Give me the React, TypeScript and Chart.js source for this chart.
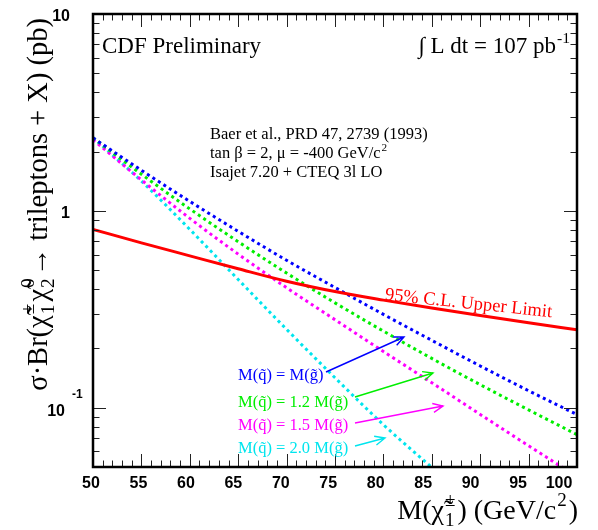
import React, { useEffect, useRef } from 'react';
import { Chart, registerables } from 'chart.js';

Chart.register(...registerables);

// ---- data (chargino mass in GeV/c^2, sigma*Br in pb) ----
const masses = [50, 55, 60, 65, 70, 75, 80, 85, 90, 95, 100];
const upperLimit = [0.805, 0.688, 0.591, 0.508, 0.439, 0.389, 0.352, 0.321, 0.294, 0.27, 0.249];
const sqEqualGl = [2.35, 1.607, 1.117, 0.787, 0.561, 0.408, 0.298, 0.22, 0.163, 0.122, 0.0923];
const sq12Gl = [2.35, 1.535, 1.023, 0.697, 0.483, 0.341, 0.245, 0.178, 0.131, 0.0975, 0.073];
const sq15Gl = [2.3, 1.436, 0.916, 0.603, 0.407, 0.28, 0.193, 0.134, 0.0925, 0.0641, 0.0446];
const sq20Gl = [2.35, 1.416, 0.805, 0.448, 0.25, 0.142, 0.082, 0.0497, null, null, null];

const xTickValues = [50, 55, 60, 65, 70, 75, 80, 85, 90, 95, 100];
const xMin = 50;
const xMax = 100;
const yMin = 0.05;
const yMax = 10;

const SERIF = '"Liberation Serif", "Times New Roman", serif';
const SANS = '"Liberation Sans", Arial, sans-serif';

type Seg = { t: string; sup?: string; sub?: string };

function drawRich(
  ctx: CanvasRenderingContext2D,
  segs: Seg[],
  x: number,
  y: number,
  size: number,
  family: string,
  align: 'left' | 'right' | 'center',
  color: string,
  gap = 2
) {
  const small = size * 0.68;
  const widths = segs.map((s) => {
    ctx.font = `${size}px ${family}`;
    const bw = ctx.measureText(s.t).width;
    ctx.font = `${small}px ${family}`;
    const sw = Math.max(
      s.sup ? ctx.measureText(s.sup).width : 0,
      s.sub ? ctx.measureText(s.sub).width : 0
    );
    return { bw, sw: sw ? sw + gap : 0 };
  });
  const total = widths.reduce((a, w) => a + w.bw + w.sw, 0);
  let cx = align === 'left' ? x : align === 'right' ? x - total : x - total / 2;
  ctx.fillStyle = color;
  ctx.textAlign = 'left';
  ctx.textBaseline = 'alphabetic';
  segs.forEach((s, i) => {
    ctx.font = `${size}px ${family}`;
    ctx.fillText(s.t, cx, y);
    cx += widths[i].bw;
    ctx.font = `${small}px ${family}`;
    if (s.sup) ctx.fillText(s.sup, cx + 1, y - size * 0.45);
    if (s.sub) ctx.fillText(s.sub, cx + 1, y + size * 0.25);
    cx += widths[i].sw;
  });
}

function drawArrow(ctx: CanvasRenderingContext2D, x1: number, y1: number, x2: number, y2: number, color: string) {
  const a = Math.atan2(y2 - y1, x2 - x1);
  const hl = 11;
  const ha = 0.42;
  ctx.save();
  ctx.strokeStyle = color;
  ctx.lineWidth = 1.4;
  ctx.beginPath();
  ctx.moveTo(x1, y1);
  ctx.lineTo(x2, y2);
  ctx.moveTo(x2 - hl * Math.cos(a - ha), y2 - hl * Math.sin(a - ha));
  ctx.lineTo(x2, y2);
  ctx.lineTo(x2 - hl * Math.cos(a + ha), y2 - hl * Math.sin(a + ha));
  ctx.stroke();
  ctx.restore();
}

const decorPlugin = {
  id: 'decor',
  afterDraw(chart: any) {
    const ctx: CanvasRenderingContext2D = chart.ctx;
    const xs = chart.scales.x;
    const ys = chart.scales.y;
    const { left, right, top, bottom } = chart.chartArea;
    ctx.save();

    // ticks
    ctx.strokeStyle = '#222';
    ctx.lineWidth = 1;
    ctx.beginPath();
    for (let m = xMin; m <= xMax; m += 1) {
      const px = Math.round(xs.getPixelForValue(m)) + 0.5;
      const len = m % 5 === 0 ? 13 : 6.5;
      ctx.moveTo(px, bottom);
      ctx.lineTo(px, bottom - len);
      ctx.moveTo(px, top);
      ctx.lineTo(px, top + len);
    }
    for (const d of [0.01, 0.1, 1]) {
      for (let k = 1; k <= 9; k++) {
        const v = k * d;
        if (v < yMin - 1e-9 || v > yMax + 1e-9) continue;
        const py = Math.round(ys.getPixelForValue(v)) + 0.5;
        const len = k === 1 ? 13 : 6.5;
        ctx.moveTo(left, py);
        ctx.lineTo(left + len, py);
        ctx.moveTo(right, py);
        ctx.lineTo(right - len, py);
      }
    }
    ctx.stroke();

    // frame
    ctx.strokeStyle = '#000';
    ctx.lineWidth = 2.5;
    ctx.strokeRect(left, top, right - left, bottom - top);

    // x tick labels
    ctx.fillStyle = '#000';
    ctx.font = `bold 16px ${SANS}`;
    ctx.textBaseline = 'alphabetic';
    ctx.textAlign = 'center';
    xTickValues.forEach((m) => {
      const label = String(m);
      const px = xs.getPixelForValue(m);
      const off = 2 + (m - xMin) * 0.19 + (label.length > 2 ? 6.5 : 0);
      ctx.fillText(label, px - off, 488);
    });

    // y tick labels
    ctx.textAlign = 'right';
    ctx.fillText('10', 70, ys.getPixelForValue(10) + 7);
    ctx.fillText('1', 70, ys.getPixelForValue(1) + 7);
    const p01 = ys.getPixelForValue(0.1);
    ctx.fillText('10', 65, p01 + 8);
    ctx.textAlign = 'left';
    ctx.font = `bold 12px ${SANS}`;
    ctx.fillText('-1', 72, p01 - 10);

    // top texts
    ctx.fillStyle = '#000';
    ctx.font = `23px ${SERIF}`;
    ctx.textAlign = 'left';
    ctx.fillText('CDF Preliminary', 102, 53);
    drawRich(ctx, [{ t: '\u222B L dt = 107 pb', sup: '-1' }], 571, 53, 23, SERIF, 'right', '#000');

    // reference block
    ctx.font = `16.5px ${SERIF}`;
    ctx.textAlign = 'left';
    ctx.fillStyle = '#000';
    ctx.fillText('Baer et al., PRD 47, 2739 (1993)', 210, 139);
    drawRich(ctx, [{ t: 'tan \u03B2 = 2, \u03BC = -400 GeV/c', sup: '2' }], 210, 158, 16.5, SERIF, 'left', '#000');
    ctx.font = `16.5px ${SERIF}`;
    ctx.fillText('Isajet 7.20 + CTEQ 3l LO', 210, 177);

    // upper-limit label
    ctx.save();
    ctx.translate(468, 308.5);
    ctx.rotate((6 * Math.PI) / 180);
    ctx.font = `18.5px ${SERIF}`;
    ctx.fillStyle = '#ff0000';
    ctx.textAlign = 'center';
    ctx.fillText('95% C.L. Upper Limit', 0, 0);
    ctx.restore();

    // legend labels + arrows
    const labels: [string, string, number][] = [
      ['M(q\u0303) = M(g\u0303)', '#0000ff', 380],
      ['M(q\u0303) = 1.2 M(g\u0303)', '#00ee00', 407],
      ['M(q\u0303) = 1.5 M(g\u0303)', '#ff00ff', 430],
      ['M(q\u0303) = 2.0 M(g\u0303)', '#00e5ee', 453],
    ];
    ctx.font = `16.5px ${SERIF}`;
    ctx.textAlign = 'left';
    labels.forEach(([t, c, y]) => {
      ctx.fillStyle = c;
      ctx.fillText(t, 238, y);
    });
    drawArrow(ctx, 326, 372, 404, 337, '#0000ff');
    drawArrow(ctx, 355, 397, 433, 373, '#00ee00');
    drawArrow(ctx, 355, 423, 443, 406, '#ff00ff');
    drawArrow(ctx, 355, 446, 385, 438, '#00e5ee');

    // axis titles
    drawRich(
      ctx,
      [{ t: 'M(' }, { t: '\u03C7\u0303', sub: '1', sup: '\u00B1' }, { t: ') (GeV/c', sup: '2' }, { t: ')' }],
      578,
      519,
      28,
      SERIF,
      'right',
      '#000',
      3
    );
    ctx.save();
    ctx.translate(47, 18);
    ctx.rotate(-Math.PI / 2);
    drawRich(
      ctx,
      [
        { t: '\u03C3\u00B7Br(' },
        { t: '\u03C7\u0303', sub: '1', sup: '\u00B1' },
        { t: '\u03C7\u0303', sub: '2', sup: '0' },
        { t: '\u2192 trileptons + X) (pb)' },
      ],
      0,
      0,
      28.5,
      SERIF,
      'right',
      '#000',
      3
    );
    ctx.restore();

    ctx.restore();
  },
};

function series(vals: (number | null)[]) {
  return masses.map((m, i) => ({ x: m, y: vals[i] }));
}

export default function App() {
  const ref = useRef<HTMLCanvasElement>(null);
  useEffect(() => {
    document.body.style.margin = '0';
    const dotted = { borderWidth: 3, borderDash: [3, 3.5], pointRadius: 0, cubicInterpolationMode: 'monotone' as const };
    const chart = new Chart(ref.current!, {
      type: 'line',
      data: {
        datasets: [
          { label: 'upper', data: series(upperLimit), borderColor: '#ff0000', borderWidth: 3, pointRadius: 0, cubicInterpolationMode: 'monotone' },
          { label: 'eq', data: series(sqEqualGl), borderColor: '#0000ff', ...dotted },
          { label: '1.2', data: series(sq12Gl), borderColor: '#00ee00', ...dotted },
          { label: '1.5', data: series(sq15Gl), borderColor: '#ff00ff', ...dotted },
          { label: '2.0', data: series(sq20Gl), borderColor: '#00e5ee', ...dotted },
        ] as any,
      },
      options: {
        animation: false,
        responsive: false,
        layout: { padding: { left: 93, right: 21, top: 14, bottom: 63 } },
        plugins: { legend: { display: false }, tooltip: { enabled: false } },
        scales: {
          x: { type: 'linear', min: xMin, max: xMax, display: false },
          y: { type: 'logarithmic', min: yMin, max: yMax, display: false },
        },
      },
      plugins: [decorPlugin],
    });
    return () => chart.destroy();
  }, []);
  return (
    <div style={{ width: 598, height: 530, background: '#fff' }}>
      <canvas ref={ref} width={598} height={530} />
    </div>
  );
}
